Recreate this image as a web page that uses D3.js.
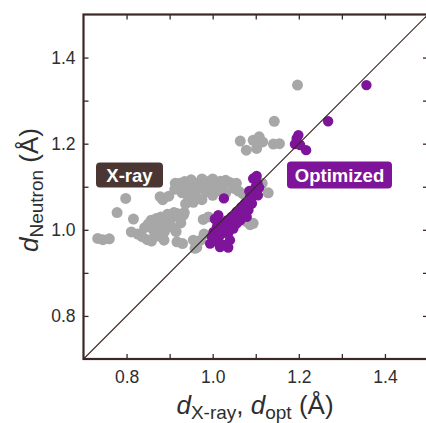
<!DOCTYPE html>
<html><head><meta charset="utf-8">
<script src="https://cdn.jsdelivr.net/npm/d3@7"></script>
<style>
html,body{margin:0;padding:0;background:#fff;overflow:hidden}
svg{display:block;font-family:"Liberation Sans",Arial,sans-serif}
</style></head>
<body>
<svg id="chart" width="426" height="423"></svg>
<script>
// X-ray distances (x) vs neutron distances (y)
const xrayX = [0.733,0.745,0.760,0.778,0.798,0.811,0.816,0.826,0.836,0.848,0.858,0.842,0.850,0.857,0.862,0.869,0.874,0.880,0.885,0.888,0.887,0.895,0.900,0.905,0.910,0.915,0.920,0.926,0.930,0.934,0.866,0.877,0.917,
  0.884,0.898,0.912,0.922,0.929,0.939,0.944,0.949,0.955,0.960,0.965,0.970,0.975,0.980,0.985,0.990,0.995,1.000,1.005,1.010,1.018,1.025,1.030,1.040,1.050,1.060,1.070,0.955,0.937,
  0.913,0.935,0.950,0.975,1.000,1.030,1.055,0.878,0.924,
  0.963,0.972,0.980,0.978,0.990,1.079,1.094,1.087,1.129,1.115,0.917,0.932,0.955,0.959,
  1.064,1.078,1.094,1.108,1.116,1.102,1.141,1.155,1.143,1.197];
const xrayNeutron = [0.980,0.977,0.979,1.040,1.073,0.995,1.025,0.990,0.984,0.977,0.974,1.005,1.013,1.022,1.000,1.026,1.008,1.030,1.016,0.996,0.976,1.036,1.021,1.006,1.040,0.996,1.030,1.016,0.968,1.040,0.990,0.985,0.972,
  1.070,1.078,1.094,1.106,1.086,1.098,1.074,1.090,1.106,1.082,1.096,1.110,1.070,1.100,1.088,1.112,1.096,1.080,1.105,1.090,1.113,1.100,1.085,1.110,1.096,1.090,1.084,1.064,1.060,
  1.108,1.112,1.116,1.118,1.118,1.115,1.108,1.077,1.108,
  0.959,0.976,0.990,1.024,1.030,1.019,1.015,1.012,1.086,1.108,1.038,1.034,0.976,0.957,
  1.206,1.185,1.208,1.216,1.204,1.189,1.199,1.200,1.252,1.336];
// Optimized distances (x) vs neutron distances (y)
const optX = [1.357,1.268,1.195,1.191,1.203,1.217,1.199,
  1.026,1.094,1.104,1.098,1.102,1.108,1.087,1.075,1.067,1.056,
  1.044,1.033,1.021,1.010,1.002,0.998,1.010,1.025,1.036,1.013,1.005,
  1.064,1.056,1.048,1.036,1.040,1.083,1.091,1.079,0.994,1.013,1.017,
  1.020,1.030,1.040,1.050,1.060,1.070,1.080,1.090,1.095,1.100,1.105,1.085,1.015,1.025];
const optNeutron = [1.336,1.252,1.212,1.199,1.197,1.185,1.220,
  1.073,1.119,1.108,1.092,1.125,1.098,1.077,1.061,1.053,1.042,
  1.030,1.022,1.015,1.007,0.995,0.984,0.972,0.965,0.959,1.034,1.025,
  1.022,1.015,1.003,0.992,0.976,1.046,1.061,1.030,0.968,0.976,0.960,
  0.990,1.000,1.010,1.025,1.035,1.045,1.060,1.075,1.085,1.100,1.080,1.090,1.000,1.010];
const tickValues = [0.8,0.9,1.0,1.1,1.2,1.3,1.4];
const tickLabels = {"0.8":"0.8","1":"1.0","1.2":"1.2","1.4":"1.4"};
const domain = [0.7,1.5];

const svg = d3.select("#chart");
const L = 83.5, R = 428, T = 14.5, B = 359;
const x = d3.scaleLinear().domain(domain).range([L,R]);
const y = d3.scaleLinear().domain(domain).range([B,T]);
const axisColor = "#3b2826";
const fmt = d => tickLabels[String(+d.toFixed(1))] || "";

// points
svg.append("g").selectAll("circle").data(d3.range(xrayX.length)).join("circle")
  .attr("cx", i => x(xrayX[i])).attr("cy", i => y(xrayNeutron[i])).attr("r", 5.5)
  .attr("fill", "#a7a7a7");
svg.append("g").selectAll("circle").data(d3.range(optX.length)).join("circle")
  .attr("cx", i => x(optX[i])).attr("cy", i => y(optNeutron[i])).attr("r", 5.2)
  .attr("fill", "#7e1499");

// diagonal
svg.append("line").attr("x1", x(domain[0])).attr("y1", y(domain[0]))
  .attr("x2", x(domain[1])).attr("y2", y(domain[1]))
  .attr("stroke", axisColor).attr("stroke-width", 1.1);

function style(g){
  g.select(".domain").remove();
  g.selectAll(".tick line").attr("stroke", axisColor).attr("stroke-width", 1.3);
  g.selectAll(".tick text").attr("fill", "#2e2e2e").style("font-size","17.5px")
   .style("font-family",'"Liberation Sans",Arial,sans-serif');
}
svg.append("g").attr("transform",`translate(0,${B})`)
  .call(d3.axisBottom(x).tickValues(tickValues).tickSize(-5).tickPadding(12).tickFormat(fmt)).call(style);
svg.append("g").attr("transform",`translate(${L},0)`)
  .call(d3.axisLeft(y).tickValues(tickValues).tickSize(-5).tickPadding(8).tickFormat(fmt)).call(style);
svg.append("g").attr("transform",`translate(0,${T})`)
  .call(d3.axisTop(x).tickValues(tickValues).tickSize(-5).tickFormat(() => "")).call(style);
svg.append("g").attr("transform",`translate(${R},0)`)
  .call(d3.axisRight(y).tickValues(tickValues).tickSize(-5).tickFormat(() => "")).call(style);

// frame
svg.append("rect").attr("x",L).attr("y",T).attr("width",R-L).attr("height",B-T)
  .attr("fill","none").attr("stroke",axisColor).attr("stroke-width",2.2);

// labels
function badge(cx, cy, w, h, fill, text){
  svg.append("rect").attr("x",cx-w/2).attr("y",cy-h/2).attr("width",w).attr("height",h)
    .attr("rx",4).attr("fill",fill);
  svg.append("text").attr("x",cx).attr("y",cy).attr("dy","0.36em").attr("text-anchor","middle")
    .attr("fill","#fff").style("font-weight","bold").style("font-size","18.5px").text(text);
}
badge(129.5, 175, 67, 25, "#4a3734", "X-ray");
badge(339.5, 175, 105, 27, "#7e1499", "Optimized");

// axis titles
const xt = svg.append("text").attr("x", 255).attr("y", 414).attr("text-anchor","middle")
  .attr("fill","#2e2e2e").style("font-size","26px");
xt.append("tspan").style("font-style","italic").text("d");
xt.append("tspan").attr("dy",5).style("font-size","19px").text("X-ray");
xt.append("tspan").attr("dy",-5).text(", ");
xt.append("tspan").style("font-style","italic").text("d");
xt.append("tspan").attr("dy",5).style("font-size","19px").text("opt");
xt.append("tspan").attr("dy",-5).text(" (Å)");

const yt = svg.append("text").attr("transform","translate(38,190) rotate(-90)").attr("text-anchor","middle")
  .attr("fill","#2e2e2e").style("font-size","26px");
yt.append("tspan").style("font-style","italic").text("d");
yt.append("tspan").attr("dy",5).style("font-size","19px").text("Neutron");
yt.append("tspan").attr("dy",-5).text(" (Å)");
</script>
</body></html>
